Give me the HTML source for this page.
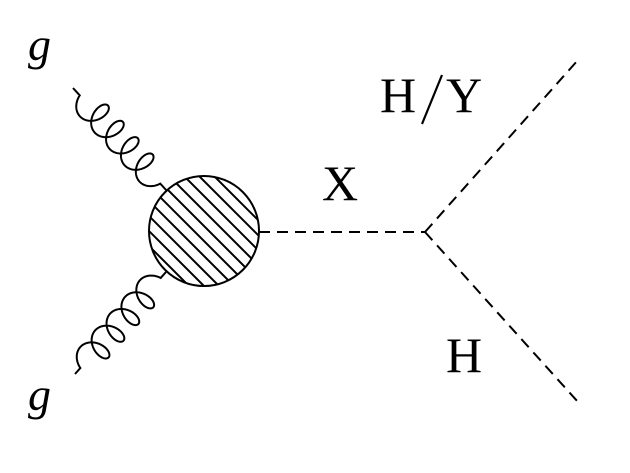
<!DOCTYPE html>
<html><head><meta charset="utf-8"><style>
html,body{margin:0;padding:0;background:#fff;}
svg{display:block}
text{font-family:"Liberation Serif",serif;fill:#000}
</style></head><body>
<svg id="s" width="630" height="473" viewBox="0 0 630 473" xmlns="http://www.w3.org/2000/svg">
<defs>
<clipPath id="c"><circle cx="204" cy="231" r="55"/></clipPath>
</defs>
<g clip-path="url(#c)" stroke="#000" stroke-width="2" id="hatch"></g>
<circle cx="204" cy="231" r="55" fill="none" stroke="#000" stroke-width="2"/>
<path id="g1" fill="none" stroke="#000" stroke-width="2"/>
<path id="g2" fill="none" stroke="#000" stroke-width="2"/>
<g stroke="#000" stroke-width="2" stroke-dasharray="11 7" fill="none">
<line x1="259" y1="232" x2="425" y2="232"/>
<line x1="425" y1="232" x2="578" y2="60"/>
<line x1="425" y1="232" x2="578" y2="402"/>
</g>
<text x="28" y="60" font-size="46" font-style="italic">g</text>
<text x="28" y="410" font-size="46" font-style="italic">g</text>
<text x="380" y="112" font-size="50">H</text>
<line x1="422" y1="124" x2="442" y2="75" stroke="#000" stroke-width="2.2"/>
<text x="446" y="112" font-size="50">Y</text>
<text x="322" y="200" font-size="50">X</text>
<text x="446" y="372" font-size="50">H</text>
</svg>
<script>
var h=document.getElementById('hatch'),s='';
for(var k=-160;k<=160;k+=15){
 s+='<line x1="'+(204+k-80)+'" y1="'+(231-80)+'" x2="'+(204+k+80)+'" y2="'+(231+80)+'"/>';
}
h.innerHTML=s;
function gl(x0,y0,x1,y1,N,ra,rp,lead,side){
 var dx=x1-x0,dy=y1-y0,L=Math.hypot(dx,dy),ux=dx/L,uy=dy/L,nx=-uy*side,ny=ux*side;
 var d='M'+x0+' '+y0,sx=x0+ux*lead,sy=y0+uy*lead;d+=' L'+sx.toFixed(2)+' '+sy.toFixed(2);
 var LL=L-2*lead-2*ra;
 for(var i=0;i<=600;i++){var t=i/600,ph=2*Math.PI*(N+0.5)*t;
  var a=LL*t+ra*(1-Math.cos(ph)), b=rp*Math.sin(ph);
  d+=' L'+(sx+ux*a+nx*b).toFixed(2)+' '+(sy+uy*a+ny*b).toFixed(2);}
 d+=' L'+x1+' '+y1;return d;}
document.getElementById('g1').setAttribute('d',gl(73,88,167,191,4,10,14,10,1));
document.getElementById('g2').setAttribute('d',gl(75,374,166,272,4,10,14,8,-1));
</script>
</body></html>
